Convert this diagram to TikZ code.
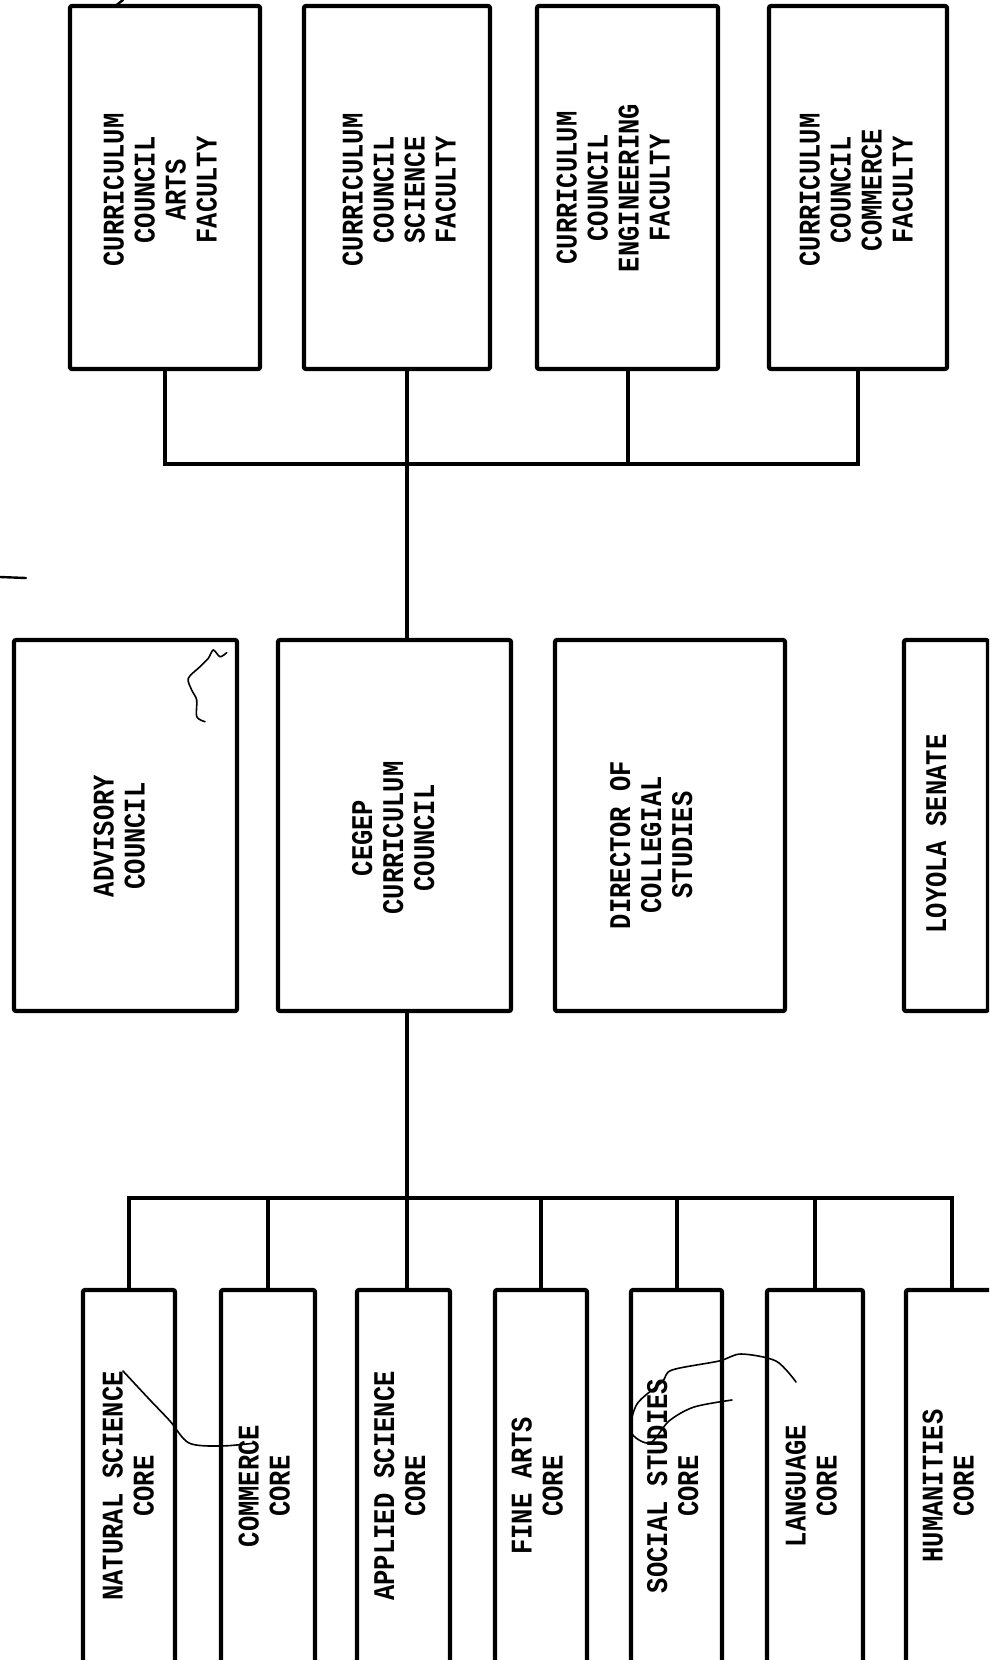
\documentclass[tikz,border=0pt]{standalone}
\usepackage{fontspec}
\usepackage{graphicx}
\newfontfamily\typewr{Liberation Mono}[FakeStretch=0.85]
% vertical multi-line label, reads bottom to top
\newcommand{\vt}[1]{\rotatebox{90}{\begin{tabular}{@{}c@{}}#1\end{tabular}}}
\begin{document}
\begin{tikzpicture}[x=1pt,y=-1pt,box/.style={draw,line width=4.2pt,rounded corners=2pt,inner sep=0pt},lbl/.style={inner sep=0pt,font=\typewr\bfseries\fontsize{30}{31}\selectfont},wire/.style={line width=4pt},scrib/.style={line width=1.6pt,line cap=round}]
\clip (0,0) rectangle (989,1660); \fill[white] (0,0) rectangle (989,1660);
% faculty curriculum councils
\node[box,minimum width=190,minimum height=363] (artsfac) at (165,187.5) {}; \node[lbl] (artsfac-t) at (164,190) {\vt{CURRICULUM\\COUNCIL\\ARTS\\FACULTY}};
\node[box,minimum width=186,minimum height=363] (scifac) at (397,187.5) {}; \node[lbl] (scifac-t) at (403,190) {\vt{CURRICULUM\\COUNCIL\\SCIENCE\\FACULTY}};
\node[box,minimum width=181,minimum height=363] (engfac) at (627.5,187.5) {}; \node[lbl] (engfac-t) at (617,188) {\vt{CURRICULUM\\COUNCIL\\ENGINEERING\\FACULTY}};
\node[box,minimum width=178,minimum height=363] (comfac) at (858,187.5) {}; \node[lbl] (comfac-t) at (860,190) {\vt{CURRICULUM\\COUNCIL\\COMMERCE\\FACULTY}};
% middle row
\node[box,minimum width=223,minimum height=371] (advisory) at (125.5,825.5) {}; \node[lbl] (advisory-t) at (123,836) {\vt{ADVISORY\\COUNCIL}};
\node[box,minimum width=233,minimum height=371] (cegep) at (394.5,825.5) {}; \node[lbl] (cegep-t) at (397,838) {\vt{CEGEP\\CURRICULUM\\COUNCIL}};
\node[box,minimum width=230,minimum height=371] (director) at (670,825.5) {}; \node[lbl] (director-t) at (655,845) {\vt{DIRECTOR OF\\COLLEGIAL\\STUDIES}};
\node[box,minimum width=84,minimum height=371] (senate) at (946,825.5) {}; \node[lbl] (senate-t) at (940,834) {\vt{LOYOLA SENATE}};
% cores (cut off at the bottom)
\node[box,minimum width=92,minimum height=430] (natsci) at (129,1505) {}; \node[lbl] (natsci-t) at (132,1486) {\vt{NATURAL SCIENCE\\CORE}};
\node[box,minimum width=94,minimum height=430] (comcore) at (268,1505) {}; \node[lbl] (comcore-t) at (268,1486) {\vt{COMMERCE\\CORE}};
\node[box,minimum width=93,minimum height=430] (applied) at (403.5,1505) {}; \node[lbl] (applied-t) at (403.5,1486) {\vt{APPLIED SCIENCE\\CORE}};
\node[box,minimum width=92,minimum height=430] (finearts) at (541,1505) {}; \node[lbl] (finearts-t) at (541,1486) {\vt{FINE ARTS\\CORE}};
\node[box,minimum width=91,minimum height=430] (social) at (676.5,1505) {}; \node[lbl] (social-t) at (676.5,1486) {\vt{SOCIAL STUDIES\\CORE}};
\node[box,minimum width=96,minimum height=430] (language) at (815,1505) {}; \node[lbl] (language-t) at (815,1486) {\vt{LANGUAGE\\CORE}};
\node[box,minimum width=92,minimum height=430] (humanities) at (952,1505) {}; \node[lbl] (humanities-t) at (952,1486) {\vt{HUMANITIES\\CORE}};
% connectors
\coordinate (spine) at (407,464); \coordinate (botbus) at (407,1198);
\draw[wire] (artsfac.south) |- (comfac.south |- spine) -- (comfac.south);
\draw[wire] (engfac.south) -- (engfac.south |- spine);
\draw[wire] (scifac.south -| spine) -- (spine |- cegep.north);
\draw[wire] (spine |- cegep.south) -- (spine |- applied.north);
\draw[wire] (natsci.north) |- (humanities.north |- botbus) -- (humanities.north);
\foreach \b in {comcore,finearts,social,language} \draw[wire] (\b.north) -- (\b.north |- botbus);
% pencil marks
\draw[scrib] plot[smooth] coordinates {(226.7,652.7) (220,656.7) (213.3,650) (208.3,658.3) (200,666.7) (188.3,678.3) (191.7,690) (196.7,700) (196.7,716.7) (205,721.7)};
\draw[scrib] plot[smooth] coordinates {(123,1371) (150,1400) (170,1421) (189,1443) (221,1446) (255.5,1443)};
\draw[scrib] plot[smooth] coordinates {(796,1382) (776,1361) (741,1354) (719,1361) (672,1370) (662,1382) (637,1404) (631,1432) (650,1443) (669,1421) (694,1407) (732,1400)};
\draw[scrib,line width=2.4pt] (123,0) -- (114,7); \draw[scrib,line width=2.4pt] (0,577) -- (26,578);
\end{tikzpicture}
\end{document}
